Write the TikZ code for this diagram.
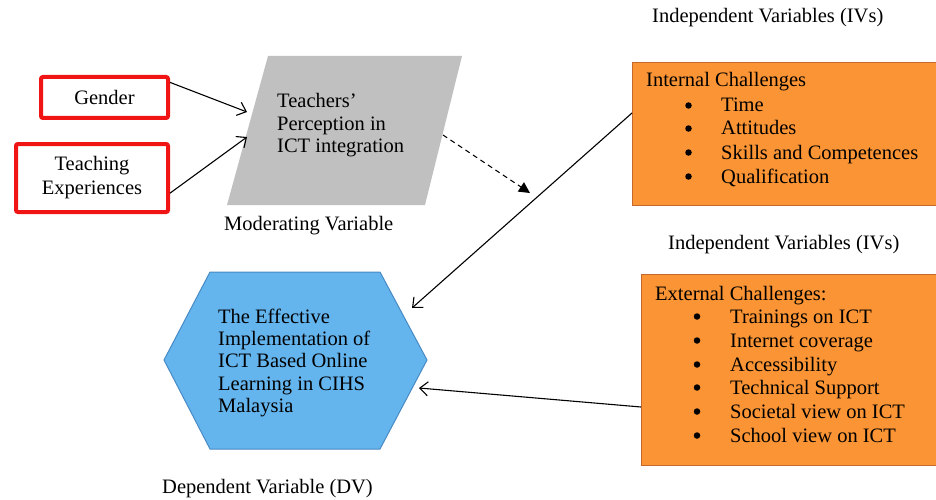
\documentclass[tikz,border=0pt]{standalone}
\usepackage{fontspec}
\setmainfont{Liberation Serif}
\usetikzlibrary{arrows.meta,calc}
\definecolor{redframe}{RGB}{240,20,20}
\definecolor{percgray}{RGB}{192,192,192}
\definecolor{ivorange}{RGB}{251,148,52}
\definecolor{ivborder}{RGB}{196,104,44}
\definecolor{dvblue}{RGB}{100,180,238}
\definecolor{dvborder}{RGB}{72,138,196}
\begin{document}
\begin{tikzpicture}[x=1pt,y=-1pt,
  font=\fontsize{20.5}{24}\selectfont,
  lbl/.style={inner sep=0pt,anchor=base west},
  bul/.style={circle,fill=black,inner sep=0pt,minimum size=6.5pt},
  redbox/.style={draw=redframe,line width=4pt,rounded corners=2pt,align=center,inner sep=0pt},
  ivbox/.style={draw=ivborder,fill=ivorange,line width=1.2pt,anchor=north west,inner sep=0pt},
  conn/.style={line width=1.1pt,-{Straight Barb[length=8pt,width=14pt,line width=1.1pt]}},
  modarrow/.style={line width=1.1pt,dashed,dash pattern=on 5pt off 4pt,-{Triangle[length=11pt,width=11pt]}}]
\useasboundingbox (0,0) rectangle (936,500);

% moderator inputs
\node[redbox,minimum width=127pt,minimum height=41pt] (gender) at (104.5,97.5) {Gender};
\node[redbox,minimum width=152pt,minimum height=68pt] (teach) at (92,178) {Teaching\\Experiences};

% moderating variable (parallelogram)
\coordinate (pA) at (268,56);
\coordinate (pB) at (462,56);
\coordinate (pC) at (425,205);
\coordinate (pD) at (227,205);
\fill[percgray] (pA) -- (pB) -- (pC) -- (pD) -- cycle;
\node[lbl] (perc1) at (277,107) {Teachers’};
\node[lbl] (perc2) at (277,130) {Perception in};
\node[lbl] (perc3) at (277,152) {ICT integration};
\node[lbl] (modlbl) at (224,230) {Moderating Variable};
\coordinate (percIn1) at (247,112);
\coordinate (percIn2) at (247,137);
\coordinate (percOut) at (443,135);
\coordinate (modTip) at (530,193);

% internal challenges
\node[lbl] (ivlbl1) at (652,23) {Independent Variables (IVs)};
\node[ivbox,minimum width=320pt,minimum height=143pt] (ic) at (632,62) {};
\node[lbl] (ictitle) at (646,87) {Internal Challenges};
\foreach \y/\t [count=\i] in {112/Time,135/Attitudes,159/Skills and Competences,183/Qualification}{
  \node[bul] (icb\i) at (688.5,\y-6.5) {};
  \node[lbl] (ici\i) at (721,\y) {\t};
}
\coordinate (icOut) at (632,113);

% external challenges
\node[lbl] (ivlbl2) at (668,249) {Independent Variables (IVs)};
\node[ivbox,minimum width=310pt,minimum height=191pt] (ec) at (641,274) {};
\node[lbl] (ectitle) at (655,300) {External Challenges:};
\foreach \y/\t [count=\i] in {323/Trainings on ICT,347/Internet coverage,371/Accessibility,394/Technical Support,418/Societal view on ICT,442/School view on ICT}{
  \node[bul] (ecb\i) at (697,\y-6.5) {};
  \node[lbl] (eci\i) at (730,\y) {\t};
}
\coordinate (ecOut) at (641,407);

% dependent variable (hexagon)
\coordinate (h1) at (210,272);
\coordinate (h2) at (380,272);
\coordinate (h3) at (427,360);
\coordinate (h4) at (380,449);
\coordinate (h5) at (210,449);
\coordinate (h6) at (164,360);
\draw[fill=dvblue,draw=dvborder,line width=1pt] (h1) -- (h2) -- (h3) -- (h4) -- (h5) -- (h6) -- cycle;
\node[inner sep=0pt,anchor=north west,align=left,font=\fontsize{20.5}{22.3}\selectfont] (dvtext) at (218,308.5)
  {The Effective\\Implementation of\\ICT Based Online\\Learning in CIHS\\Malaysia};
\node[lbl] (dvlbl) at (162,493) {Dependent Variable (DV)};
\coordinate (dvIn1) at (412,308);
\coordinate (dvIn2) at (419,388);

% connectors
\draw[conn] (gender.13) -- (percIn1);
\draw[conn] (teach.-11) -- (percIn2);
\draw[modarrow] (percOut) -- (modTip);
\draw[conn] (icOut) -- (dvIn1);
\draw[conn] (ecOut) -- (dvIn2);
\end{tikzpicture}
\end{document}
